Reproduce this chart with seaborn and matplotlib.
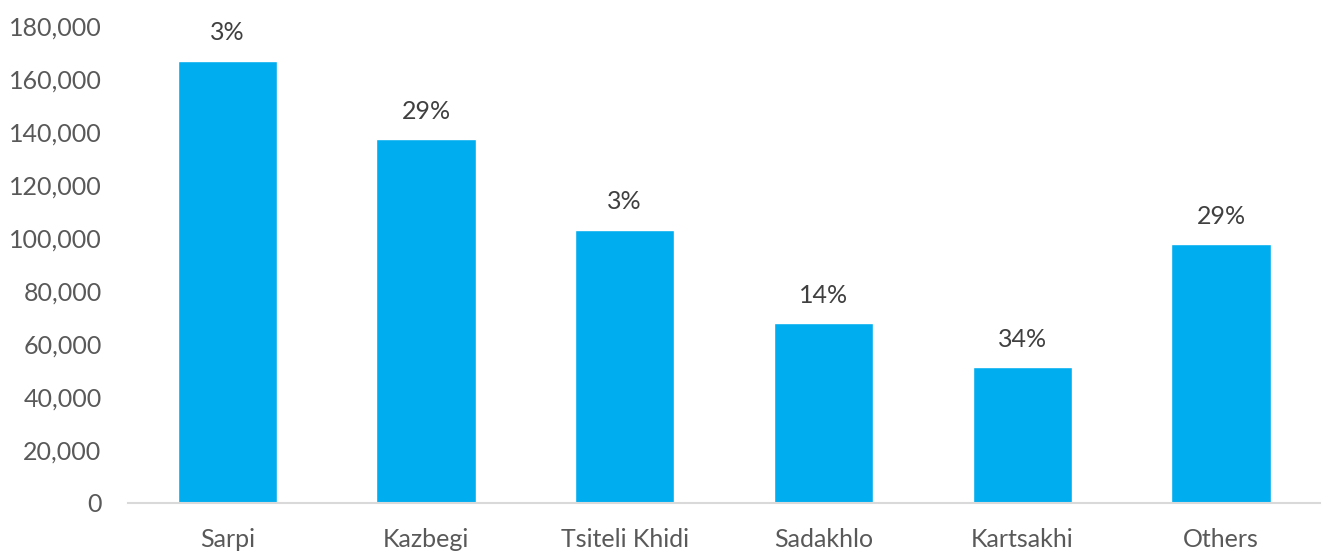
import matplotlib
matplotlib.use("Agg")
import matplotlib.pyplot as plt
import seaborn as sns
import pandas as pd
from matplotlib.ticker import FuncFormatter

# border crossing points and their values
crossings = ["Sarpi", "Kazbegi", "Tsiteli Khidi", "Sadakhlo", "Kartsakhi", "Others"]
volumes = [167000, 137300, 103200, 67800, 51200, 97700]
shares = ["3%", "29%", "3%", "14%", "34%", "29%"]
y_ticks = [0, 20000, 40000, 60000, 80000, 100000, 120000, 140000, 160000, 180000]

df = pd.DataFrame({"crossing": crossings, "volume": volumes})

sns.set_style("white")
plt.rcParams["font.family"] = ["Lato", "DejaVu Sans"]

fig = plt.figure(figsize=(13.23, 5.53), dpi=100)
ax = fig.add_axes([0.0967, 0.0905, 0.9013, 0.862])

sns.barplot(data=df, x="crossing", y="volume", color="#00AEEF",
            saturation=1, width=0.5, ax=ax)

# percentage labels above bars
for i, (v, s) in enumerate(zip(volumes, shares)):
    ax.annotate(s, (i, v), xytext=(0, 12), textcoords="offset points",
                ha="center", va="bottom", fontsize=18, color="#404040")

ax.set_ylim(0, 180000)
ax.set_xlim(-0.5, 5.5)
ax.set_yticks(y_ticks)
ax.yaxis.set_major_formatter(FuncFormatter(lambda v, p: f"{int(v):,}"))
ax.set_xlabel("")
ax.set_ylabel("")
ax.tick_params(axis="both", length=0, labelsize=18, labelcolor="#595959")
ax.tick_params(axis="y", pad=19)
ax.tick_params(axis="x", pad=18)

for side in ["top", "right", "left"]:
    ax.spines[side].set_visible(False)
ax.spines["bottom"].set_color("#D9D9D9")
ax.spines["bottom"].set_linewidth(1.5)

fig.savefig("out.png", dpi=100)
plt.close(fig)
